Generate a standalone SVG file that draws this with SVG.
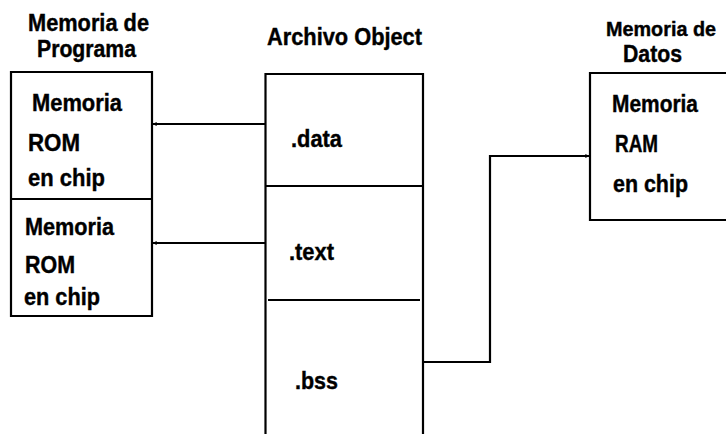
<svg xmlns="http://www.w3.org/2000/svg" width="726" height="434" viewBox="0 0 726 434">
  <style>
    .bg { fill: #ffffff; }
    .frame { fill: none; stroke: #000; stroke-width: 2.2; }
    .wire { fill: none; stroke: #000; stroke-width: 2.2; }
    .title { font-family: "Liberation Sans", Arial, sans-serif; font-weight: bold; font-size: 23px; fill: #000; stroke: #000; stroke-width: 0.4; }
    .label { font-family: "Liberation Sans", Arial, sans-serif; font-weight: bold; font-size: 24px; fill: #000; stroke: #000; stroke-width: 0.4; }
  </style>
  <defs>
    <marker id="tip" viewBox="0 0 6 6" refX="5.5" refY="3" markerWidth="4" markerHeight="4" orient="auto" markerUnits="userSpaceOnUse">
      <path d="M0,0 L6,3 L0,6 z" fill="#000"/>
    </marker>
  </defs>
  <rect class="bg" x="0" y="0" width="726" height="434"/>

  <!-- Program memory -->
  <g id="prog-mem">
    <text class="title" x="28" y="31" textLength="121" lengthAdjust="spacingAndGlyphs">Memoria de</text>
    <text class="title" x="37" y="57" textLength="99" lengthAdjust="spacingAndGlyphs">Programa</text>
    <path class="frame" d="M11,72 H152 V316 H11 Z M11,199 H152"/>
  </g>
  <g id="rom-1">
    <text class="label" x="32" y="111" textLength="90" lengthAdjust="spacingAndGlyphs">Memoria</text>
    <text class="label" x="28" y="151" textLength="52" lengthAdjust="spacingAndGlyphs">ROM</text>
    <text class="label" x="28" y="186" textLength="77" lengthAdjust="spacingAndGlyphs">en chip</text>
  </g>
  <g id="rom-2">
    <text class="label" x="25" y="235" textLength="89" lengthAdjust="spacingAndGlyphs">Memoria</text>
    <text class="label" x="25" y="273" textLength="50" lengthAdjust="spacingAndGlyphs">ROM</text>
    <text class="label" x="24" y="305" textLength="76" lengthAdjust="spacingAndGlyphs">en chip</text>
  </g>

  <!-- Object file -->
  <g id="object-file">
    <text class="title" x="267" y="45" textLength="155" lengthAdjust="spacingAndGlyphs">Archivo Object</text>
    <path class="frame" d="M265.5,436 V74 H423 V436 M265.5,186 H423"/>
    <line class="frame" x1="268" y1="300" x2="420" y2="300"/>
  </g>
  <g id="sec-data">
    <text class="label" x="291" y="147" textLength="51" lengthAdjust="spacingAndGlyphs">.data</text>
  </g>
  <g id="sec-text">
    <text class="label" x="289" y="260" textLength="45" lengthAdjust="spacingAndGlyphs">.text</text>
  </g>
  <g id="sec-bss">
    <text class="label" x="295" y="389" textLength="43" lengthAdjust="spacingAndGlyphs">.bss</text>
  </g>

  <!-- Data memory -->
  <g id="data-mem">
    <text class="title" x="606" y="36" style="font-size:20px" textLength="110" lengthAdjust="spacingAndGlyphs">Memoria de</text>
    <text class="title" x="623" y="62" textLength="59" lengthAdjust="spacingAndGlyphs">Datos</text>
    <path class="frame" d="M728,73 H590 V220 H728"/>
    <text class="label" x="612" y="112" textLength="86" lengthAdjust="spacingAndGlyphs">Memoria</text>
    <text class="label" x="615" y="152" textLength="43" lengthAdjust="spacingAndGlyphs">RAM</text>
    <text class="label" x="613" y="192" textLength="75" lengthAdjust="spacingAndGlyphs">en chip</text>
  </g>

  <!-- Connectors -->
  <g id="connectors">
    <path class="wire" d="M265,124 H153" marker-end="url(#tip)"/>
    <path class="wire" d="M265,243 H153" marker-end="url(#tip)"/>
    <path class="wire" d="M423,362 H490 V156 H589" marker-end="url(#tip)"/>
  </g>
</svg>
